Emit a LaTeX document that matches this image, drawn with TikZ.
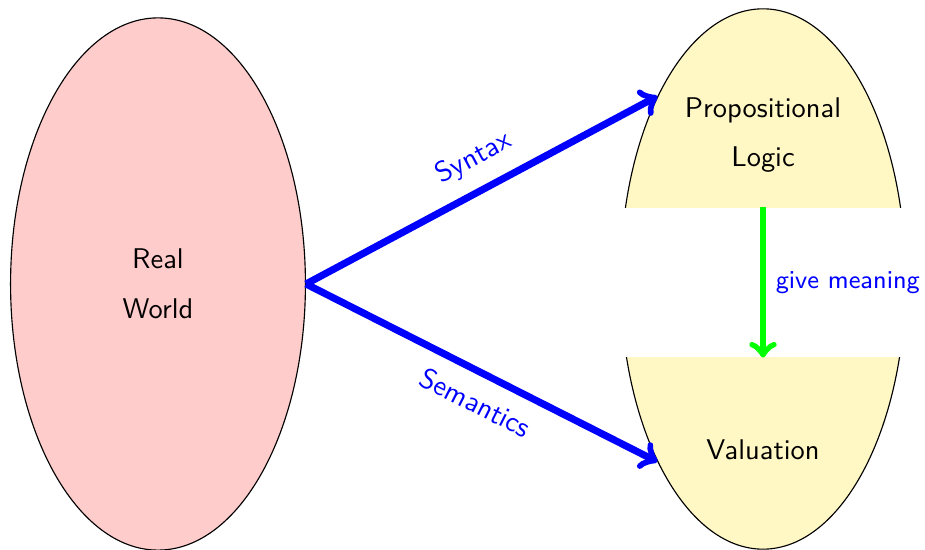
\documentclass[tikz,border=0pt]{standalone}
\usepackage{xcolor}
\usetikzlibrary{shapes, arrows, positioning, calc}
\definecolor{paleyellow}{RGB}{255,248,197}

\begin{document}
\begin{tikzpicture}[x=0.012346cm, y=-0.012346cm, font=\sffamily]
        \useasboundingbox (0,0) rectangle (925,550);

        \node[draw, ellipse, fill=red!20, minimum width=3.64cm, minimum height=6.57cm, align=center] at (158,284) (world) {Real\\[5.5pt]World};
        \node[draw, ellipse, fill=paleyellow, minimum width=3.52cm, minimum height=6.67cm] at (763,279) (prop) {};
        \node[fill=white, inner sep=0pt, minimum width=3.6cm, minimum height=1.84cm] at (763,282.5) (gap) {};

        \node[align=center] at (763,135) (logic) {Propositional\\[5.5pt]Logic};
        \node at (763,450) (val) {Valuation};

        \draw[->, blue, line width=2.5pt] (world.east) -- node[sloped, above=2pt, pos=0.52] {Syntax} (prop.120);
        \draw[->, blue, line width=2.5pt] (world.east) -- node[sloped, below=2pt, pos=0.52] {Semantics} (prop.240);
        \draw[->, green, line width=2.3pt] (gap.north) -- node[right, blue, font=\sffamily\small] {give meaning} (gap.south);
    \end{tikzpicture}
\end{document}
